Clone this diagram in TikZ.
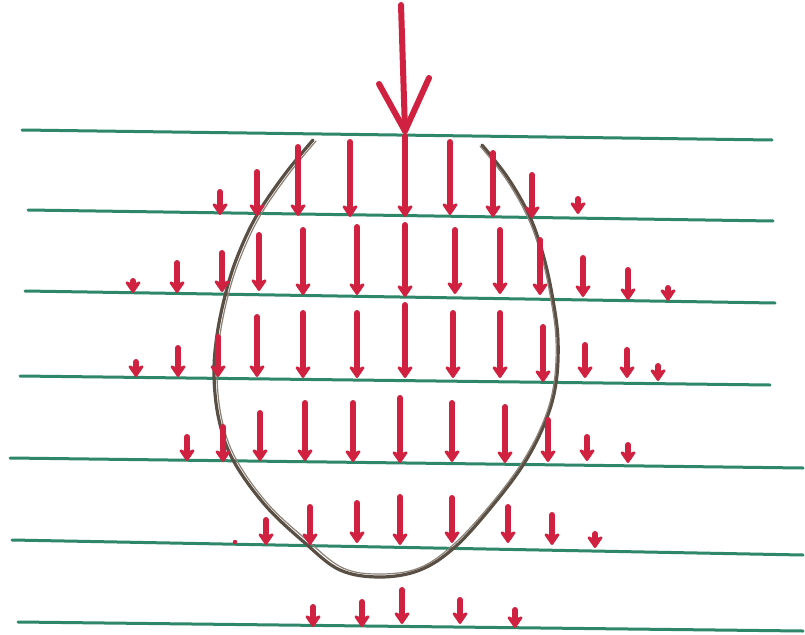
\documentclass[tikz,border=0pt]{standalone}
\usetikzlibrary{arrows.meta}
\definecolor{inkred}{HTML}{D02240}
\definecolor{inkgreen}{HTML}{2E8768}
\definecolor{pencil}{HTML}{5A4F45}
\definecolor{pencillight}{HTML}{8C8278}
\tikzset{
  guide/.style={inkgreen, line width=3pt, line cap=round},
  downarrow/.style={inkred, line width=6pt, line cap=round,
    -{Stealth[length=14pt,width=19pt,inset=4pt,round]}},
  bigarrow/.style={inkred, line width=6pt, line cap=round, line join=round},
  eggline/.style={pencil, line width=3.2pt, line cap=round, line join=round},
  eggfaint/.style={pencillight, line width=1.2pt, line cap=round}
}
\begin{document}
\begin{tikzpicture}[x=1pt,y=-1pt]
\fill[white] (0,0) rectangle (805,634);
\useasboundingbox (0,0) rectangle (805,634);

% green ruled lines
\draw[guide] (22,130) -- (772,140);
\draw[guide] (28,210) -- (773,221);
\draw[guide] (25,291) -- (775,303);
\draw[guide] (20,376) -- (770,385);
\draw[guide] (10,458) -- (803,468);
\draw[guide] (12,540) -- (803,555);
\draw[guide] (18,622) -- (803,631);

% egg-shaped outline, open at the top
\draw[eggline] plot[smooth, tension=0.6] coordinates {
 (313,140) (285,174) (257,215) (238,255) (226,292) (217,335) (214,376)
 (219,420) (233,460) (265,505) (305,543) (340,570) (380,577) (420,570)
 (455,547) (493,505) (525,462) (546,420) (556,383) (558,340) (553,300)
 (544,258) (530,217) (508,178) (482,145)};
\draw[eggfaint] plot[smooth, tension=0.6] coordinates {
 (316,141) (288,175) (260,216) (241,256) (229,292) (220,335) (217,376)
 (222,420) (236,459) (268,504) (308,541) (343,568) (380,574) (419,568)
 (453,545) (491,504) (523,461) (544,420) (554,383) (556,340) (551,300)
 (542,258) (528,218) (506,179) (480,146)};

% big arrow at the top
\coordinate (bigtop) at (401,5);
\coordinate (bigtip) at (405,131);
\coordinate (barbL) at (379,84);
\coordinate (barbR) at (429,78);
\draw[bigarrow] (bigtop) -- (bigtip);
\draw[bigarrow] (barbL) -- (bigtip) -- (barbR);

% field of red arrows: x / top / tip
\foreach \x/\a/\b in {
  220/192/215, 257/172/216, 298/147/216, 350/142/217, 405/136/217,
  450/142/215, 493/153/217, 532/175/218, 578/199/214,
  133/281/293, 177/263/293, 222/253/292, 259/235/291, 303/230/295,
  357/227/295, 405/225/297, 455/230/294, 500/230/294, 540/240/295,
  583/258/297, 628/270/300, 668/288/301,
  136/362/377, 178/348/377, 218/337/377, 257/317/377, 303/313/378,
  357/313/378, 405/305/378, 453/313/378, 500/313/378, 543/327/382,
  585/345/378, 627/350/378, 658/366/381,
  187/437/461, 223/427/462, 260/413/461, 305/403/461, 353/403/462,
  400/398/463, 452/403/462, 505/407/463, 548/420/462, 587/437/461,
  628/445/463,
  266/520/545, 310/507/545, 357/503/543, 400/497/545, 452/498/543,
  508/507/543, 552/515/545, 595/534/548,
  313/607/627, 362/602/627, 402/590/624, 460/600/624, 515/610/628}
  \draw[downarrow] (\x,\a) -- (\x,\b);
\fill[inkred] (235,542) circle (2.2pt);
\end{tikzpicture}
\end{document}
